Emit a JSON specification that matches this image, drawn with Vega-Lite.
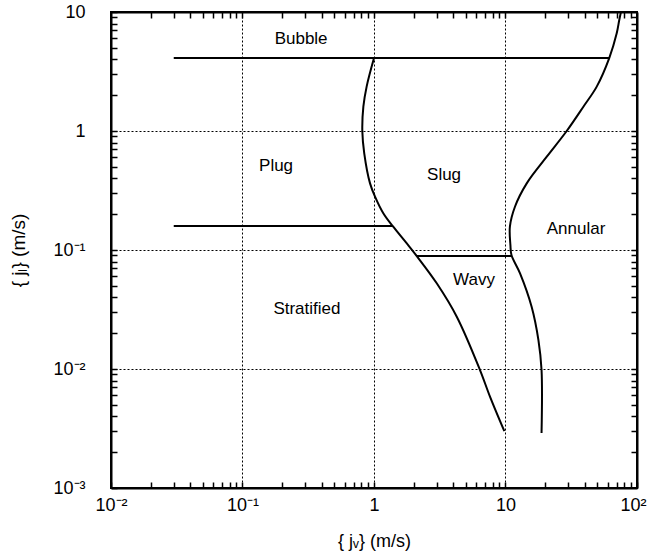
{
  "$schema": "https://vega.github.io/schema/vega-lite/v6.json",
  "autosize": "none",
  "width": 526,
  "height": 476,
  "padding": {"left": 111, "top": 12, "right": 11, "bottom": 66},
  "background": "white",
  "config": {
    "view": {"stroke": "black", "strokeWidth": 2},
    "font": "Liberation Sans",
    "axis": {
      "domainColor": "black", "domainWidth": 2,
      "ticks": true, "tickColor": "black", "tickWidth": 1.5,
      "gridColor": "black", "gridDash": [2, 2], "gridWidth": 1,
      "labelFont": "Liberation Sans", "labelFontSize": 18, "labelColor": "black",
      "titleFont": "Liberation Sans", "titleFontSize": 18, "titleFontWeight": "normal", "titleColor": "black"
    }
  },
  "datasets": {
    "lines": [
      {"seg": "bubble", "i": 0, "x": 0.03, "y": 4.1},
      {"seg": "bubble", "i": 1, "x": 61.5, "y": 4.1},
      {"seg": "plug", "i": 0, "x": 0.03, "y": 0.159},
      {"seg": "plug", "i": 1, "x": 1.39, "y": 0.159},
      {"seg": "wavy", "i": 0, "x": 2.12, "y": 0.089},
      {"seg": "wavy", "i": 1, "x": 11.1, "y": 0.089},
      {"seg": "left", "i": 0, "x": 1.0, "y": 4.1},
      {"seg": "left", "i": 1, "x": 0.879, "y": 2.36},
      {"seg": "left", "i": 2, "x": 0.83, "y": 1.6},
      {"seg": "left", "i": 3, "x": 0.815, "y": 1.0},
      {"seg": "left", "i": 4, "x": 0.843, "y": 0.65},
      {"seg": "left", "i": 5, "x": 0.933, "y": 0.363},
      {"seg": "left", "i": 6, "x": 1.02, "y": 0.28},
      {"seg": "left", "i": 7, "x": 1.18, "y": 0.203},
      {"seg": "left", "i": 8, "x": 1.4, "y": 0.157},
      {"seg": "left", "i": 9, "x": 1.77, "y": 0.114},
      {"seg": "left", "i": 10, "x": 2.13, "y": 0.088},
      {"seg": "left", "i": 11, "x": 3.0, "y": 0.0525},
      {"seg": "left", "i": 12, "x": 4.26, "y": 0.0275},
      {"seg": "left", "i": 13, "x": 6.4, "y": 0.0098},
      {"seg": "left", "i": 14, "x": 7.62, "y": 0.00586},
      {"seg": "left", "i": 15, "x": 9.8, "y": 0.003},
      {"seg": "right", "i": 0, "x": 75.5, "y": 10},
      {"seg": "right", "i": 1, "x": 73.3, "y": 8.57},
      {"seg": "right", "i": 2, "x": 70.1, "y": 6.62},
      {"seg": "right", "i": 3, "x": 61.5, "y": 4.1},
      {"seg": "right", "i": 4, "x": 49.4, "y": 2.36},
      {"seg": "right", "i": 5, "x": 39.1, "y": 1.6},
      {"seg": "right", "i": 6, "x": 29.2, "y": 1.0},
      {"seg": "right", "i": 7, "x": 20.6, "y": 0.608},
      {"seg": "right", "i": 8, "x": 14.5, "y": 0.363},
      {"seg": "right", "i": 9, "x": 11.8, "y": 0.231},
      {"seg": "right", "i": 10, "x": 10.8, "y": 0.157},
      {"seg": "right", "i": 11, "x": 10.9, "y": 0.11},
      {"seg": "right", "i": 12, "x": 11.1, "y": 0.0908},
      {"seg": "right", "i": 13, "x": 12.9, "y": 0.0637},
      {"seg": "right", "i": 14, "x": 15.8, "y": 0.0334},
      {"seg": "right", "i": 15, "x": 17.8, "y": 0.0175},
      {"seg": "right", "i": 16, "x": 18.8, "y": 0.0098},
      {"seg": "right", "i": 17, "x": 18.8, "y": 0.0029}
    ],
    "labels": [
      {"text": "Bubble", "x": 0.279, "y": 5.93},
      {"text": "Plug", "x": 0.18, "y": 0.508},
      {"text": "Slug", "x": 3.41, "y": 0.427},
      {"text": "Annular", "x": 34.4, "y": 0.15},
      {"text": "Wavy", "x": 5.76, "y": 0.056},
      {"text": "Stratified", "x": 0.309, "y": 0.0319}
    ]
  },
  "layer": [
    {
      "data": {"name": "lines"},
      "mark": {"type": "line", "color": "black", "strokeWidth": 2, "clip": true, "interpolate": "catmull-rom"},
      "encoding": {
        "x": {
          "field": "x", "type": "quantitative",
          "scale": {"type": "log", "domain": [0.01, 100], "nice": false},
          "axis": {
            "orient": "bottom",
            "title": "{ jᵥ} (m/s)",
            "titlePadding": 18,
            "values": [0.01,0.02,0.03,0.04,0.05,0.06,0.07,0.08,0.09,0.1,0.2,0.3,0.4,0.5,0.6,0.7,0.8,0.9,1,2,3,4,5,6,7,8,9,10,20,30,40,50,60,70,80,90,100],
            "labelExpr": "datum.value==0.01?'10⁻²':datum.value==0.1?'10⁻¹':datum.value==1?'1':datum.value==10?'10':datum.value==100?'10²':''",
            "labelPadding": 14,
            "labelFlush": false,
            "labelOverlap": false,
            "labelOffset": {"condition": {"test": "datum.value==100", "value": -4}, "value": 0},
            "grid": false,
            "tickSize": -6
          }
        },
        "y": {
          "field": "y", "type": "quantitative",
          "scale": {"type": "log", "domain": [0.001, 10], "nice": false},
          "axis": {
            "orient": "left",
            "title": "{ jₗ} (m/s)",
            "titleFontSize": 19,
            "titlePadding": 24,
            "values": [0.001,0.002,0.003,0.004,0.005,0.006,0.007,0.008,0.009,0.01,0.02,0.03,0.04,0.05,0.06,0.07,0.08,0.09,0.1,0.2,0.3,0.4,0.5,0.6,0.7,0.8,0.9,1,2,3,4,5,6,7,8,9,10],
            "labelExpr": "datum.value==0.001?'10⁻³':datum.value==0.01?'10⁻²':datum.value==0.1?'10⁻¹':datum.value==1?'1':datum.value==10?'10':''",
            "labelPadding": 32,
            "labelFlush": false,
            "labelOverlap": false,
            "grid": false,
            "tickSize": -6
          }
        },
        "detail": {"field": "seg", "type": "nominal"},
        "order": {"field": "i", "type": "quantitative"}
      }
    },
    {
      "data": {"name": "labels"},
      "mark": {"type": "text", "font": "Liberation Sans", "fontSize": 17, "color": "black", "align": "center", "baseline": "middle"},
      "encoding": {
        "x": {
          "field": "x", "type": "quantitative",
          "scale": {"type": "log", "domain": [0.01, 100], "nice": false},
          "axis": {
            "orient": "top", "title": null, "labels": false, "grid": false,
            "values": [0.02,0.03,0.04,0.05,0.06,0.07,0.08,0.09,0.1,0.2,0.3,0.4,0.5,0.6,0.7,0.8,0.9,1,2,3,4,5,6,7,8,9,10,20,30,40,50,60,70,80,90],
            "tickSize": -6
          }
        },
        "y": {
          "field": "y", "type": "quantitative",
          "scale": {"type": "log", "domain": [0.001, 10], "nice": false},
          "axis": {
            "orient": "right", "title": null, "labels": false, "grid": false,
            "values": [0.002,0.003,0.004,0.005,0.006,0.007,0.008,0.009,0.01,0.02,0.03,0.04,0.05,0.06,0.07,0.08,0.09,0.1,0.2,0.3,0.4,0.5,0.6,0.7,0.8,0.9,1,2,3,4,5,6,7,8,9],
            "tickSize": -6
          }
        },
        "text": {"field": "text", "type": "nominal"}
      }
    },
    {
      "data": {"name": "labels"},
      "mark": {"type": "point", "opacity": 0},
      "encoding": {
        "x": {
          "field": "x", "type": "quantitative",
          "scale": {"type": "log", "domain": [0.01, 100], "nice": false},
          "axis": {
            "orient": "bottom", "title": null, "labels": false, "ticks": false, "domain": false, "grid": true,
            "values": [0.1, 1, 10]
          }
        },
        "y": {
          "field": "y", "type": "quantitative",
          "scale": {"type": "log", "domain": [0.001, 10], "nice": false},
          "axis": {
            "orient": "left", "title": null, "labels": false, "ticks": false, "domain": false, "grid": true,
            "values": [0.01, 0.1, 1]
          }
        }
      }
    }
  ],
  "resolve": {"axis": {"x": "independent", "y": "independent"}}
}
